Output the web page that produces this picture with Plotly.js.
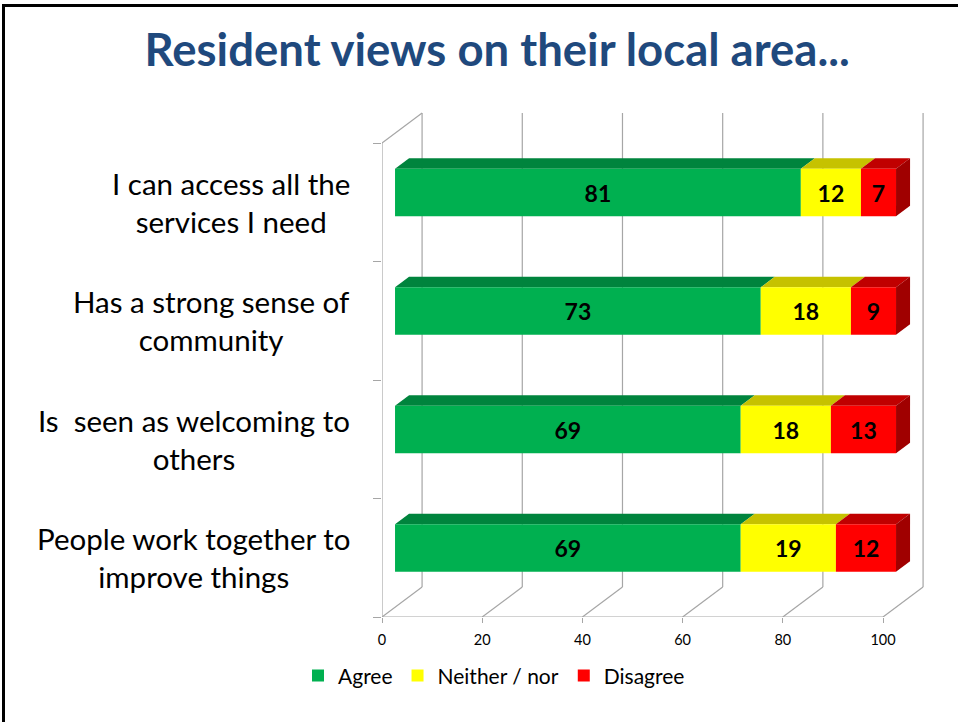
<!DOCTYPE html>
<html>
<head>
<meta charset="utf-8">
<script src="https://cdn.plot.ly/plotly-3.0.1.min.js"></script>
<style>
  html, body { margin: 0; padding: 0; background: #fff; }
  #chart { width: 958px; height: 722px; }
  #frame { position: absolute; left: 2px; top: 4px; width: 970px; height: 730px;
           border-left: 3px solid #000; border-top: 3px solid #000; pointer-events: none; }
</style>
</head>
<body>
<div id="chart"></div>
<div id="frame"></div>
<script>
// ---- data ----
const categories = [
  "I can access all the<br>services I need",
  "Has a strong sense of<br>community",
  "Is\u00A0 seen as welcoming to<br>others",
  "People work together to<br>improve things"
];
const agree    = [81, 73, 69, 69];
const neither  = [12, 18, 18, 19];
const disagree = [7, 9, 13, 12];
const seriesNames = ["Agree", "Neither / nor", "Disagree"];
const xTickVals = [0, 20, 40, 60, 80, 100];

// ---- styling / geometry ----
const frontColors = ["#00B050", "#FFFF00", "#FF0000"];
const topColors   = ["#00843D", "#C6C200", "#C00000"];
const sideColor   = "#A00000";
const gridColor   = "#A6A6A6";
const FONT = "Lato, 'Open Sans', sans-serif";

const nRows = categories.length;
const DX = 8;        // full depth offset in x units
const DY = 0.253;    // full depth offset in y (row) units
const barFront = 0.325, barBack = 0.675;
const halfH = 0.2;

// row centre (top category at the top)
const rowCenter = i => nRows - 1 - i + 0.5;

const series = [agree, neither, disagree];
const traces = [];
const shapes = [];
const line = (x0, y0, x1, y1) => ({type: 'line', xref: 'x', yref: 'y', x0, y0, x1, y1,
  line: {color: gridColor, width: 1.2}, layer: 'below'});

// back wall gridlines, floor diagonals
xTickVals.forEach(v => {
  shapes.push(line(v + DX, DY, v + DX, nRows + DY));
  shapes.push(line(v, 0, v + DX, DY));
});
shapes.push(line(0, 0, xTickVals[xTickVals.length - 1], 0));
shapes.push(line(0, 0, 0, nRows));
shapes.push(line(0, nRows, DX, nRows + DY));

const fx = barFront * DX, fy = barFront * DY;
const ddx = (barBack - barFront) * DX, ddy = (barBack - barFront) * DY;

series.forEach((vals, s) => {
  const bases = vals.map((v, i) => {
    let b = 0; for (let k = 0; k < s; k++) b += series[k][i];
    return b + fx;
  });
  traces.push({
    type: 'bar', orientation: 'h', name: seriesNames[s],
    x: vals, base: bases,
    y: vals.map((v, i) => rowCenter(i) + fy),
    width: 0.4,
    marker: {color: frontColors[s], line: {width: 0}},
    text: vals.map(String), textposition: 'inside', insidetextanchor: 'middle',
    textfont: {family: FONT, size: 23, color: '#000', weight: 'bold'},
    constraintext: 'none', hoverinfo: 'skip'
  });
  vals.forEach((v, i) => {
    const x0 = bases[i], x1 = bases[i] + v;
    const yt = rowCenter(i) + fy + halfH, yb = rowCenter(i) + fy - halfH;
    shapes.push({type: 'path', xref: 'x', yref: 'y', layer: 'below', line: {width: 0},
      fillcolor: topColors[s],
      path: `M${x0},${yt} L${x1},${yt} L${x1 + ddx},${yt + ddy} L${x0 + ddx},${yt + ddy} Z`});
    if (s === series.length - 1) {
      shapes.push({type: 'path', xref: 'x', yref: 'y', layer: 'below', line: {width: 0},
        fillcolor: sideColor,
        path: `M${x1},${yb} L${x1},${yt} L${x1 + ddx},${yt + ddy} L${x1 + ddx},${yb + ddy} Z`});
    }
  });
});

const annotations = categories.map((c, i) => ({
  text: c, xref: 'paper', yref: 'y', x: 0, xshift: -30, y: rowCenter(i),
  xanchor: 'right', yanchor: 'middle', align: 'center', showarrow: false,
  font: {family: FONT, size: 29.5, color: '#000'}
}));

const plotW = 958 - 382 - 16;
const layout = {
  width: 958, height: 722,
  margin: {l: 382, r: 16, t: 100, b: 105},
  paper_bgcolor: '#fff', plot_bgcolor: 'rgba(0,0,0,0)',
  barmode: 'overlay',
  title: {text: 'Resident views on their local area...', xref: 'container', yref: 'container',
    x: 0.519, y: 0.93, xanchor: 'center', yanchor: 'middle',
    font: {family: FONT, size: 45.5, color: '#1F497D', weight: 'bold'}},
  xaxis: {range: [0, plotW / 5.01], tickvals: xTickVals, ticktext: xTickVals.map(String),
    showgrid: false, zeroline: false, showline: false, ticks: 'outside', ticklen: 5,
    tickcolor: gridColor, ticklabelstandoff: 5,
    tickfont: {family: FONT, size: 14.5, color: '#000'}, fixedrange: true},
  yaxis: {range: [0, 517 / 118.5], tickvals: [0, 1, 2, 3, 4], showticklabels: false,
    showgrid: false, zeroline: false, showline: false, ticks: 'outside', ticklen: 8,
    tickcolor: gridColor, fixedrange: true},
  showlegend: true,
  legend: {orientation: 'h', x: 0.2, xanchor: 'center', y: -0.114, yanchor: 'middle',
    font: {family: FONT, size: 21, color: '#000'}, traceorder: 'normal'},
  shapes, annotations
};

Plotly.newPlot('chart', traces, layout, {displayModeBar: false, staticPlot: true});
</script>
</body>
</html>
